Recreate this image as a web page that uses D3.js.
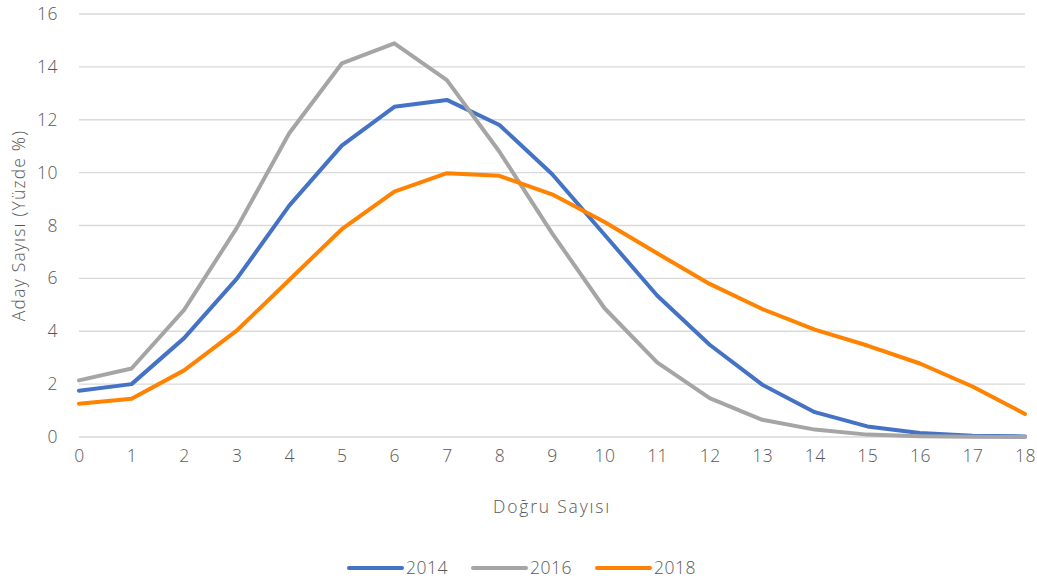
<!DOCTYPE html>
<html>
<head>
<meta charset="utf-8">
<script src="https://cdn.jsdelivr.net/npm/d3@7"></script>
<style>
  body { margin: 0; background: #fff; }
  svg text { font-family: "Open Sans", "Noto Sans", sans-serif; font-weight: 300; fill: #595959; }
</style>
</head>
<body>
<svg id="chart" width="1037" height="584"></svg>
<script>
// Doğru sayısı (0-18)
const dogruSayisi = d3.range(0, 19);
const yilListesi = ["2014", "2016", "2018"];

// Aday yüzdeleri
const seri2014 = [1.75, 2.0, 3.74, 5.98, 8.75, 11.02, 12.49, 12.75, 11.8, 9.95, 7.65, 5.35, 3.49, 1.98, 0.94, 0.4, 0.15, 0.05, 0.02];
const seri2016 = [2.14, 2.59, 4.81, 7.9, 11.49, 14.13, 14.89, 13.5, 10.79, 7.71, 4.87, 2.82, 1.47, 0.65, 0.28, 0.09, 0.03, 0.01, 0.0];
const seri2018 = [1.26, 1.45, 2.52, 4.02, 5.94, 7.86, 9.28, 9.98, 9.88, 9.18, 8.13, 6.95, 5.79, 4.84, 4.06, 3.46, 2.78, 1.91, 0.87];

const yTicks = [0, 2, 4, 6, 8, 10, 12, 14, 16];

const renkler = { "2014": "#4472C4", "2016": "#A5A5A5", "2018": "#FF8300" };

const seriler = [
  { yil: "2014", degerler: seri2014 },
  { yil: "2016", degerler: seri2016 },
  { yil: "2018", degerler: seri2018 }
];

const svg = d3.select("#chart"),
      margin = { top: 14, right: 12, bottom: 147, left: 79 },
      width = +svg.attr("width") - margin.left - margin.right,
      height = +svg.attr("height") - margin.top - margin.bottom;

const g = svg.append("g").attr("transform", `translate(${margin.left},${margin.top})`);

const x = d3.scaleLinear().domain([0, 18]).range([0, width]);
const y = d3.scaleLinear().domain([0, 16]).range([height, 0]);

// Yatay ızgara çizgileri
g.selectAll("line.grid")
  .data(yTicks)
  .enter().append("line")
    .attr("class", "grid")
    .attr("x1", 0)
    .attr("x2", width)
    .attr("y1", d => y(d))
    .attr("y2", d => y(d))
    .attr("stroke", "#D9D9D9")
    .attr("stroke-width", 1.3);

// Y ekseni
const yAxis = g.append("g")
  .call(d3.axisLeft(y).tickValues(yTicks).tickSize(0).tickPadding(21));
yAxis.select(".domain").remove();
yAxis.selectAll("text").style("font-size", "17.5px").style("letter-spacing", "0.5px").attr("fill", "#595959");

// X ekseni
const xAxis = g.append("g")
  .attr("transform", `translate(0,${height})`)
  .call(d3.axisBottom(x).tickValues(dogruSayisi).tickSize(0).tickPadding(13));
xAxis.select(".domain").remove();
xAxis.selectAll("text").style("font-size", "17.5px").style("letter-spacing", "0.5px").attr("fill", "#595959");

// Çizgiler
const line = d3.line()
  .x((d, i) => x(dogruSayisi[i]))
  .y(d => y(d));

g.selectAll("path.seri")
  .data(seriler)
  .enter().append("path")
    .attr("class", "seri")
    .attr("d", d => line(d.degerler))
    .attr("fill", "none")
    .attr("stroke", d => renkler[d.yil])
    .attr("stroke-width", 4)
    .attr("stroke-linejoin", "round")
    .attr("stroke-linecap", "round");

// Eksen başlıkları
svg.append("text")
  .attr("x", margin.left + width / 2)
  .attr("y", 513)
  .attr("text-anchor", "middle")
  .style("font-size", "17.5px")
  .style("letter-spacing", "1.8px")
  .text("Doğru Sayısı");

svg.append("text")
  .attr("transform", `translate(25,${margin.top + height / 2}) rotate(-90)`)
  .attr("text-anchor", "middle")
  .style("font-size", "17.5px")
  .style("letter-spacing", "1.2px")
  .text("Aday Sayısı (Yüzde %)");

// Lejant
const lejant = svg.append("g").attr("transform", "translate(349,568)");
const lg = lejant.selectAll("g")
  .data(yilListesi)
  .enter().append("g")
    .attr("transform", (d, i) => `translate(${i * 124},0)`);
lg.append("line")
  .attr("x1", 0).attr("x2", 53)
  .attr("y1", 0).attr("y2", 0)
  .attr("stroke", d => renkler[d])
  .attr("stroke-width", 4)
  .attr("stroke-linecap", "round");
lg.append("text")
  .attr("x", 57)
  .attr("y", 6)
  .style("font-size", "17.5px")
  .style("letter-spacing", "0.5px")
  .text(d => d);
</script>
</body>
</html>
